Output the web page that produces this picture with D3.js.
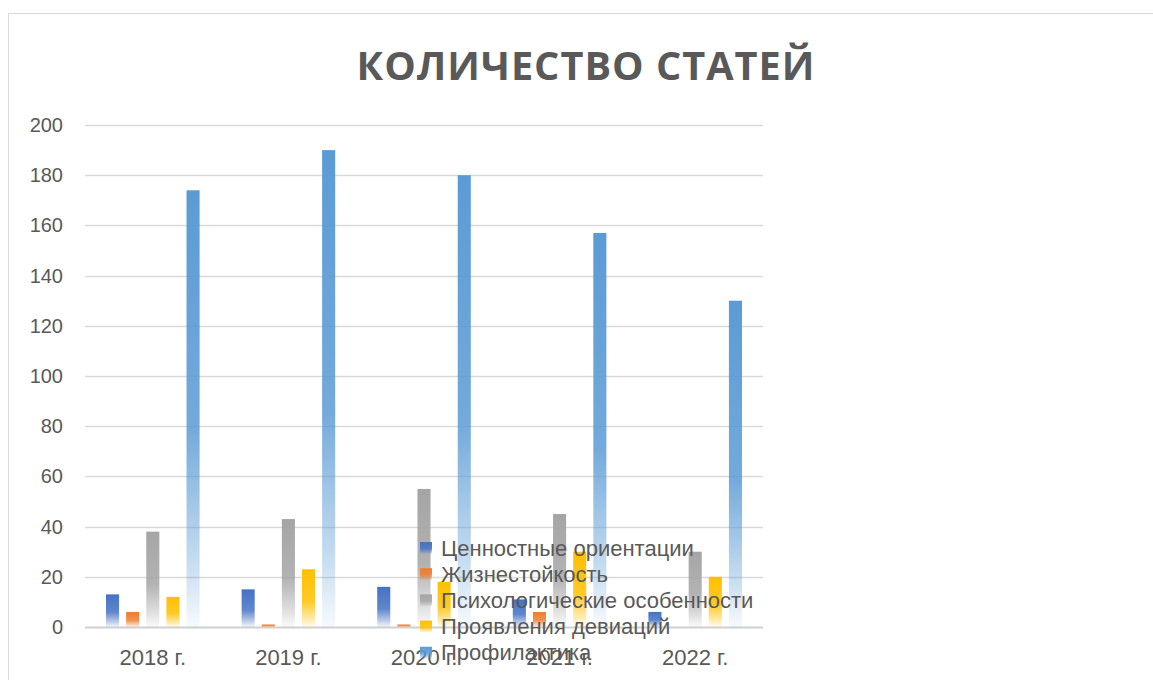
<!DOCTYPE html>
<html>
<head>
<meta charset="utf-8">
<script src="https://cdn.jsdelivr.net/npm/d3@7"></script>
<style>
  body { margin: 0; background: #fff; }
  text { font-family: "Liberation Sans", Arial, sans-serif; fill: #595959; }
</style>
</head>
<body>
<div id="chart"></div>
<script>
// data
var years = ["2018 г.", "2019 г.", "2020 г.", "2021 г.", "2022 г."];
var seriesNames = ["Ценностные ориентации", "Жизнестойкость", "Психологические особенности", "Проявления девиаций", "Профилактика"];
var values = [
    [13, 15, 16, 11, 6],      // Ценностные ориентации
    [6, 1, 1, 6, 0],          // Жизнестойкость
    [38, 43, 55, 45, 30],     // Психологические особенности
    [12, 23, 18, 30, 20],     // Проявления девиаций
    [174, 190, 180, 157, 130] // Профилактика
];
var yTicks = [0, 20, 40, 60, 80, 100, 120, 140, 160, 180, 200];
var colors = ["#4472C4", "#ED7D31", "#A5A5A5", "#FFC000", "#5B9BD5"];

var W = 1153, H = 680;
var margin = {top: 125, right: 390, bottom: 53, left: 85};
var width = W - margin.left - margin.right;
var height = H - margin.top - margin.bottom;

var svg = d3.select("#chart")
    .append("svg")
    .attr("width", W)
    .attr("height", H);

// gradients: solid on top, fading to white at the bottom
var defs = svg.append("defs");
colors.forEach(function (c, i) {
    var g = defs.append("linearGradient")
        .attr("id", "grad" + i)
        .attr("x1", 0).attr("y1", 0).attr("x2", 0).attr("y2", 1);
    g.append("stop").attr("offset", "0%").attr("stop-color", c).attr("stop-opacity", 1);
    g.append("stop").attr("offset", "55%").attr("stop-color", c).attr("stop-opacity", 0.85);
    g.append("stop").attr("offset", "85%").attr("stop-color", c).attr("stop-opacity", 0.35);
    g.append("stop").attr("offset", "100%").attr("stop-color", c).attr("stop-opacity", 0.05);
});

// chart frame
svg.append("rect")
    .attr("x", 8.5).attr("y", 13.5)
    .attr("width", W + 20).attr("height", H + 20)
    .attr("fill", "none")
    .attr("stroke", "#D9D9D9");

// title
var title = svg.append("text")
    .attr("x", 586)
    .attr("y", 80)
    .attr("text-anchor", "middle")
    .style("font-family", "'Open Sans', sans-serif")
    .style("font-weight", "bold")
    .style("font-size", "44px")
    .style("letter-spacing", "1px")
    .text("КОЛИЧЕСТВО СТАТЕЙ");
var tw = title.node().getComputedTextLength();
title.style("font-size", (44 * 457 / tw).toFixed(1) + "px");

var g = svg.append("g")
    .attr("transform", "translate(" + margin.left + "," + margin.top + ")");

var x0 = d3.scaleBand()
    .domain(years)
    .range([0, width]);

var x1 = d3.scaleBand()
    .domain(d3.range(seriesNames.length))
    .range([21, x0.bandwidth() - 21])
    .paddingInner(0.35);

var y = d3.scaleLinear()
    .domain([0, 200])
    .range([height, 0]);

// gridlines
g.append("g")
    .selectAll("line")
    .data(yTicks)
    .enter()
    .append("line")
    .attr("x1", 0)
    .attr("x2", width)
    .attr("y1", function (d) { return Math.round(y(d)) + 0.5; })
    .attr("y2", function (d) { return Math.round(y(d)) + 0.5; })
    .attr("stroke", function (d) { return d === 0 ? "#D0D0D0" : "#D9D9D9"; })
    .attr("stroke-width", function (d) { return d === 0 ? 2 : 1.5; });

// Y axis labels
var yaxis = d3.axisLeft(y).tickValues(yTicks).tickSize(0).tickPadding(22);
g.append("g")
    .attr("class", "yaxis")
    .call(yaxis)
    .call(function (s) { s.select(".domain").remove(); })
    .selectAll("text")
    .style("font-size", "20px")
    .style("fill", "#595959");

// X axis labels
var xaxis = d3.axisBottom(x0).tickSize(0).tickPadding(22);
g.append("g")
    .attr("class", "xaxis")
    .attr("transform", "translate(0," + height + ")")
    .call(xaxis)
    .call(function (s) { s.select(".domain").remove(); })
    .selectAll("text")
    .style("font-size", "22px")
    .style("fill", "#595959");

// bars
var groups = g.selectAll(".year")
    .data(years)
    .enter()
    .append("g")
    .attr("class", "year")
    .attr("transform", function (d) { return "translate(" + x0(d) + ",0)"; });

groups.selectAll("rect")
    .data(function (d, yi) {
        return values.map(function (arr, si) { return {s: si, v: arr[yi]}; });
    })
    .enter()
    .append("rect")
    .attr("x", function (d) { return x1(d.s); })
    .attr("y", function (d) { return y(d.v); })
    .attr("width", x1.bandwidth())
    .attr("height", function (d) { return height - y(d.v); })
    .attr("fill", function (d) { return "url(#grad" + d.s + ")"; });

// legend (overlaps the plot, like the original)
var legend = svg.append("g")
    .attr("transform", "translate(420,548)");
var items = legend.selectAll("g")
    .data(seriesNames)
    .enter()
    .append("g")
    .attr("transform", function (d, i) { return "translate(0," + (i * 26.2) + ")"; });
items.append("rect")
    .attr("x", 0).attr("y", -6)
    .attr("width", 12).attr("height", 12)
    .attr("fill", function (d, i) { return "url(#grad" + i + ")"; });
items.append("text")
    .attr("x", 21)
    .attr("y", 7.5)
    .style("font-size", "22px")
    .text(function (d) { return d; });
</script>
</body>
</html>
